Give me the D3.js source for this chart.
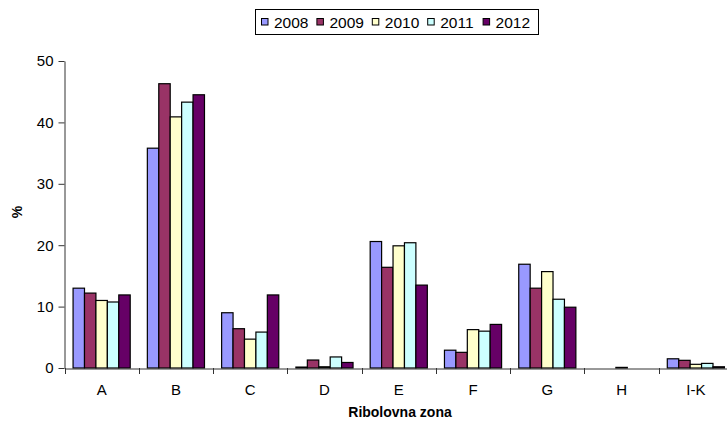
<!DOCTYPE html>
<html><head><meta charset="utf-8">
<script src="https://cdn.jsdelivr.net/npm/d3@7"></script>
<style>body{margin:0;background:#fff}svg{display:block;font-family:"Liberation Sans",Arial,sans-serif}</style>
</head><body><svg id="c" width="727" height="421"></svg>
<script>
const categories = ["A","B","C","D","E","F","G","H","I-K"];
const years = ["2008","2009","2010","2011","2012"];
const s2008 = [13.0, 35.8, 9.0, 0.15, 20.6, 2.9, 16.9, 0, 1.5];
const s2009 = [12.2, 46.3, 6.4, 1.3, 16.4, 2.55, 13.0, 0, 1.25];
const s2010 = [11.0, 40.9, 4.7, 0.2, 19.9, 6.25, 15.7, 0.1, 0.6];
const s2011 = [10.75, 43.3, 5.85, 1.8, 20.4, 6.0, 11.2, 0, 0.75];
const s2012 = [11.9, 44.5, 11.9, 0.9, 13.5, 7.1, 9.9, 0, 0.2];
const yTicks = [0,10,20,30,40,50];
const colors = ["#9999FF","#993366","#FFFFCC","#CCFFFF","#660066"];
const series = [s2008,s2009,s2010,s2011,s2012];

const svg = d3.select("#c");
const x0 = d3.scaleBand().domain(categories).range([64.5, 733]).paddingInner(0).paddingOuter(0);
const groupPad = x0.bandwidth()*1.5/6.5/2;
const x1 = d3.scaleBand().domain(years).range([groupPad, x0.bandwidth()-groupPad]);
const y = d3.scaleLinear().domain([0,50]).range([368, 61]);

// bars
const g = svg.append("g");
categories.forEach((c,i)=>{
  years.forEach((yr,j)=>{
    const v = series[j][i];
    g.append("rect")
      .attr("x", x0(c)+x1(yr))
      .attr("y", y(v))
      .attr("width", x1.bandwidth())
      .attr("height", y(0)-y(v))
      .attr("fill", colors[j])
      .attr("stroke", "#000").attr("stroke-width", 1.2);
  });
});

// y axis
const ya = svg.append("g").attr("transform","translate(64.5,0)")
  .call(d3.axisLeft(y).tickValues(yTicks).tickSize(6).tickPadding(5).tickSizeOuter(0));
ya.select(".domain").attr("stroke","#333");
ya.selectAll(".tick line").attr("stroke","#333");
ya.selectAll("text").attr("font-size",15).attr("fill","#000").attr("font-family","Liberation Sans, Arial, sans-serif");

// x axis
const xa = svg.append("g").attr("transform","translate(0,368.5)")
  .call(d3.axisBottom(x0).tickSize(0).tickPadding(16));
xa.select(".domain").attr("stroke","#333");
xa.selectAll("text").attr("font-size",15).attr("fill","#000").attr("font-family","Liberation Sans, Arial, sans-serif");
// category boundary ticks
const bounds = categories.map(c=>x0(c));
svg.append("g").selectAll("line").data(bounds).join("line")
  .attr("x1",d=>Math.round(d)+0.5).attr("x2",d=>Math.round(d)+0.5)
  .attr("y1",368).attr("y2",374).attr("stroke","#333");

// axis titles
svg.append("text").attr("x",400).attr("y",417).attr("text-anchor","middle")
  .attr("font-size",14).attr("font-weight","bold").text("Ribolovna zona");
svg.append("text").attr("transform","translate(22,212) rotate(-90)").attr("text-anchor","middle")
  .attr("font-size",14).attr("font-weight","bold").text("%");

// legend
const lg = svg.append("g");
lg.append("rect").attr("x",255.5).attr("y",9.5).attr("width",283).attr("height",25)
  .attr("fill","#fff").attr("stroke","#000");
years.forEach((yr,j)=>{
  const lx = 261 + 55.4*j;
  lg.append("rect").attr("x",lx+0.5).attr("y",18.5).attr("width",6.5).attr("height",6.5)
    .attr("fill",colors[j]).attr("stroke","#000");
  lg.append("text").attr("x",lx+13).attr("y",27.5).attr("font-size",15.5).text(yr);
});
</script></body></html>
